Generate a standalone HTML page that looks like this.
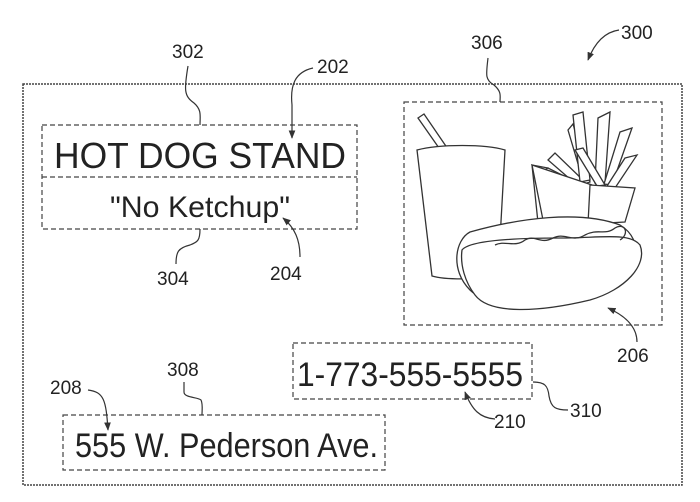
<!DOCTYPE html>
<html><head><style>
html,body{margin:0;padding:0;background:#fff;}
svg{display:block;}
text{font-family:"Liberation Sans",sans-serif;fill:#222;}
</style></head><body>
<svg width="700" height="502" viewBox="0 0 700 502" xmlns="http://www.w3.org/2000/svg">
<defs><marker id="ar" viewBox="0 0 10 10" refX="9" refY="5" markerWidth="7" markerHeight="7" orient="auto"><path d="M0,1 L10,5 L0,9 Z" fill="#333"/></marker></defs>
<g fill="none" stroke="#444">
<rect x="23" y="84" width="659" height="401" stroke-width="1.5" stroke-dasharray="2,1"/>
<g stroke-width="1.2" stroke-dasharray="5,3">
<rect x="42" y="125" width="315" height="104"/>
<line x1="42" y1="177" x2="357" y2="177"/>
<rect x="404" y="102" width="258" height="223"/>
<rect x="293" y="343" width="239" height="56"/>
<rect x="63" y="415" width="322" height="55"/>
</g>
<g stroke-width="1.2" stroke="#333">
<path d="M188,66 C184,90 184,96 194,103 C202,110 200,116 200,125"/>
<path d="M313,68 C295,72 290,85 292,105 L292,138" marker-end="url(#ar)"/>
<path d="M200,229 C200,240 198,242 190,245 C178,248 176,252 176,264"/>
<path d="M300,257 C300,240 295,228 283,218" marker-end="url(#ar)"/>
<path d="M488,58 C486,75 485,80 494,85 C502,92 500,96 500,102"/>
<path d="M619,30 C605,32 595,42 588,60" marker-end="url(#ar)"/>
<path d="M637,342 C637,330 630,318 608,308" marker-end="url(#ar)"/>
<path d="M184,382 L184,392 C184,398 198,397 201,400 C203,404 202,410 202,415"/>
<path d="M88,390 C104,392 106,400 108,430" marker-end="url(#ar)"/>
<path d="M495,419 C480,418 472,410 465,392" marker-end="url(#ar)"/>
<path d="M533,382 C545,382 548,386 549,396 C551,408 556,410 568,410"/>
</g>
<g stroke="#333" stroke-width="1.3" fill="#fff">
<path d="M418,118 L424,114 L452,155 L446,158 Z"/>
<path d="M417,150 C440,144 485,144 505,150 L498,275 C485,280 445,280 432,276 Z"/>
<path d="M532,165 L548,168 L556,245 L540,242 Z"/>
<path d="M540,173 L548,168 L576,182 L570,188 Z"/>
<path d="M548,160 L555,153 L585,182 L578,186 Z"/>
<path d="M568,130 L573,124 L590,182 L584,184 Z"/>
<path d="M573,115 L583,112 L590,180 L580,182 Z"/>
<path d="M598,118 L610,112 L605,183 L595,183 Z"/>
<path d="M620,132 L632,128 L612,185 L604,184 Z"/>
<path d="M625,158 L637,155 L615,188 L607,186 Z"/>
<path d="M575,150 L583,148 L605,185 L597,186 Z"/>
<path d="M532,165 L592,185 L588,245 L548,245 Z"/>
<path d="M590,185 L635,188 L625,222 L588,224 Z"/>
<path d="M470,232 C520,218 580,210 620,225 C645,240 642,275 600,290 C550,305 490,310 470,290 C450,270 455,240 470,232 Z"/>
<path d="M462,250 C470,240 520,238 560,238 C600,238 630,232 640,245 C648,265 625,290 590,300 C540,312 490,315 475,295 C465,282 460,265 462,250 Z"/>
<path d="M495,245 C505,240 515,248 525,240 C535,234 540,245 553,238 C565,232 572,243 585,235 C598,228 605,236 615,228 C625,222 630,234 620,240" fill="none"/>
</g>
</g>
<g font-size="19">
<text x="172" y="58">302</text>
<text x="317" y="73">202</text>
<text x="157" y="285">304</text>
<text x="270" y="280">204</text>
<text x="471" y="49">306</text>
<text x="621" y="39">300</text>
<text x="617" y="362">206</text>
<text x="167" y="376">308</text>
<text x="50" y="394">208</text>
<text x="494" y="428">210</text>
<text x="570" y="417">310</text>
</g>
<text x="54" y="168" font-size="36" textLength="292" lengthAdjust="spacingAndGlyphs">HOT DOG STAND</text>
<text x="110" y="217" font-size="30" textLength="180" lengthAdjust="spacingAndGlyphs">"No Ketchup"</text>
<text x="297" y="386" font-size="34" textLength="226" lengthAdjust="spacingAndGlyphs">1-773-555-5555</text>
<text x="75" y="457" font-size="34" textLength="303" lengthAdjust="spacingAndGlyphs">555 W. Pederson Ave.</text>
</svg>
</body></html>
